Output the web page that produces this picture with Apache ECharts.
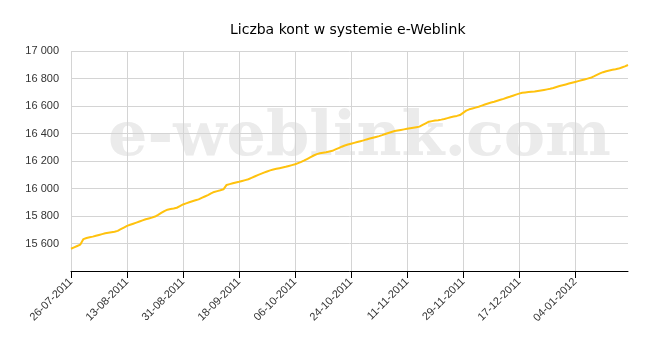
<!DOCTYPE html>
<html>
<head>
<meta charset="utf-8">
<script src="https://cdn.jsdelivr.net/npm/echarts@6/dist/echarts.min.js"></script>
<style>html,body{margin:0;padding:0;background:#fff}#c{width:662px;height:358px}</style>
</head>
<body>
<div id="c"></div>
<script>
var titleText = 'Liczba kont w systemie e-Weblink';
var watermarkText = 'e-weblink.com';
var startDate = [2011, 7, 26]; // yyyy, mm, dd
var yTicks = { min: 15400, max: 17000, step: 200 };
var accounts = [
15562,15572,15582,15592,15632,15640,15645,15650,15656,15662,
15668,15674,15678,15682,15686,15692,15704,15716,15728,15736,
15744,15752,15760,15768,15776,15782,15788,15796,15808,15822,
15836,15846,15851,15855,15860,15872,15884,15892,15900,15907,
15914,15921,15932,15942,15952,15964,15975,15981,15987,15994,
16026,16032,16038,16044,16049,16055,16061,16067,16077,16087,
16097,16106,16115,16124,16132,16138,16143,16148,16153,16158,
16164,16170,16176,16185,16194,16204,16216,16228,16240,16250,
16256,16260,16264,16269,16274,16284,16294,16304,16313,16320,
16326,16332,16338,16344,16350,16357,16363,16369,16375,16381,
16388,16396,16404,16411,16418,16422,16426,16430,16434,16438,
16442,16446,16450,16462,16474,16486,16490,16494,16497,16501,
16506,16512,16518,16523,16528,16534,16550,16566,16576,16582,
16588,16595,16603,16611,16618,16625,16631,16638,16645,16652,
16660,16667,16675,16683,16690,16696,16699,16701,16703,16705,
16709,16713,16717,16721,16725,16731,16738,16745,16751,16757,
16763,16769,16775,16781,16787,16793,16799,16805,16815,16826,
16837,16846,16853,16858,16863,16867,16872,16880,16888,16898
];
// one category per day, labelled dd-mm-yyyy
var categories = [];
(function(){
  var t0 = Date.UTC(startDate[0], startDate[1]-1, startDate[2]);
  for (var i = 0; i < accounts.length; i++) {
    var d = new Date(t0 + i*86400000);
    var dd = ('0'+d.getUTCDate()).slice(-2), mm = ('0'+(d.getUTCMonth()+1)).slice(-2);
    categories.push(dd+'-'+mm+'-'+d.getUTCFullYear());
  }
})();
var labelEvery = 18;

var chart = echarts.init(document.getElementById('c'), null, {renderer:'canvas'});
chart.setOption({
  animation: false,
  backgroundColor: '#fff',
  title: {
    text: titleText, left: 225, top: 18,
    textStyle: { fontFamily: 'DejaVu Sans', fontSize: 14, fontWeight: 'normal', color: '#000' }
  },
  graphic: [{
    type: 'text', left: 108, top: 108, z: -10, silent: true,
    style: { text: watermarkText, font: 'bold 62px "DejaVu Serif"', fill: '#ebebeb' }
  }],
  grid: { left: 71, right: 34, top: 51, bottom: 87, containLabel: false },
  xAxis: {
    type: 'category', data: categories, boundaryGap: false,
    axisLine: { lineStyle: { color: '#000', width: 1 } },
    axisTick: { show: true, interval: labelEvery-1, length: 7, lineStyle: { color: '#000' } },
    splitLine: { show: true, interval: labelEvery-1, lineStyle: { color: '#d4d4d4', width: 1 } },
    axisLabel: { interval: labelEvery-1, rotate: 45, margin: 9, fontFamily: 'Liberation Sans', fontSize: 11, color: '#333' }
  },
  yAxis: {
    type: 'value', min: yTicks.min, max: yTicks.max, interval: yTicks.step,
    axisLine: { show: false }, axisTick: { show: false },
    splitLine: { lineStyle: { color: '#d4d4d4', width: 1 } },
    axisLabel: {
      showMinLabel: false, margin: 12, fontFamily: 'Liberation Sans', fontSize: 11, color: '#333',
      formatter: function(v){ return String(v).replace(/\B(?=(\d{3})+(?!\d))/g, ' '); }
    }
  },
  series: [{
    type: 'line', data: accounts, showSymbol: false, symbol: 'none',
    lineStyle: { color: '#ffc20e', width: 2 }, z: 5
  }]
});
</script>
</body>
</html>
